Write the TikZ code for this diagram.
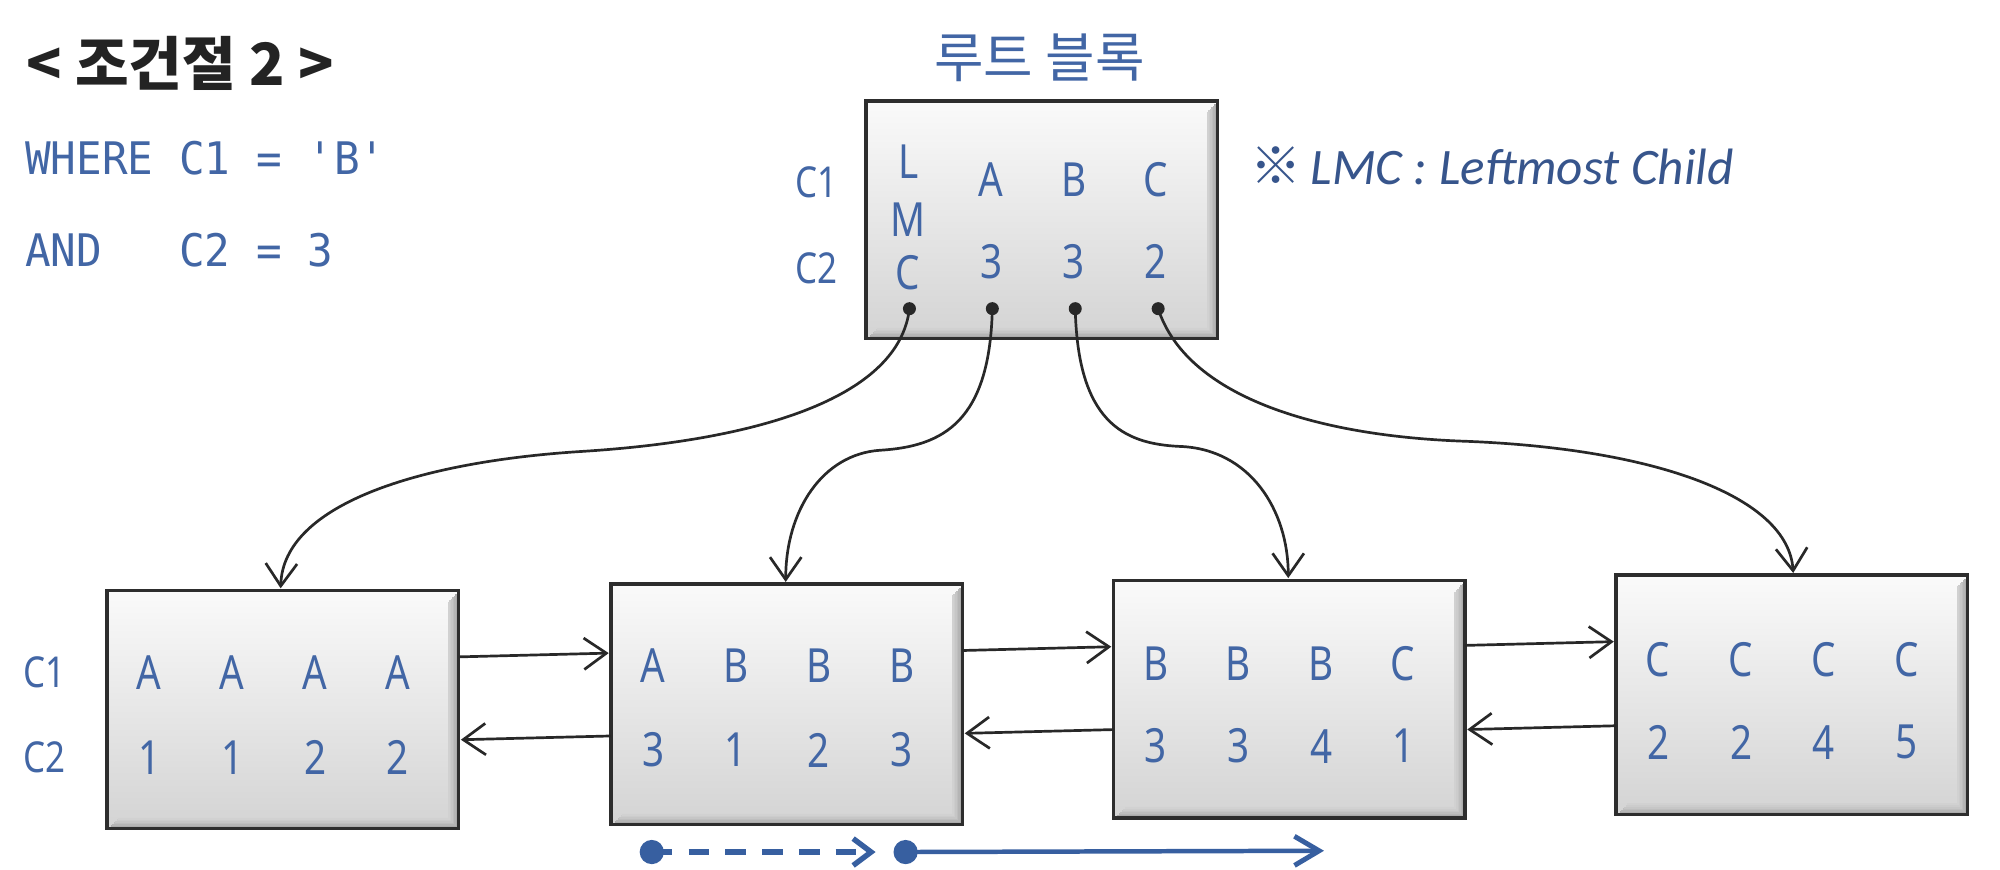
\documentclass[tikz,border=0pt]{standalone}
\usepackage{fontspec}
\setmainfont{Noto Sans}
\newfontfamily\boxfont{Noto Sans}[FakeStretch=0.82]
\newfontfamily\codefont{DejaVu Sans Mono}[FakeStretch=0.95]
\newfontfamily\krfont{Noto Sans CJK KR}
\newfontfamily\notefont{Carlito}
\usetikzlibrary{arrows.meta,calc}

\definecolor{txtblue}{RGB}{66,102,165}
\definecolor{noteblue}{RGB}{55,85,140}
\definecolor{linegray}{RGB}{40,40,40}
\definecolor{boxedge}{RGB}{45,45,45}
\definecolor{titlegray}{RGB}{35,35,35}
\definecolor{arrowblue}{RGB}{55,95,160}

\newcommand{\mybevel}[1]{%
  \foreach \i/\c in {1.8/66,3/58,4.2/51,5.4/45,6.6/40,7.8/36}{%
    \draw[gray!\c, line width=0.45pt]
      ($(#1.north east)+(-\i,\i+1)$) -- ($(#1.south east)+(-\i,-\i)$) -- ($(#1.south west)+(\i+1,-\i)$);
  }%
  \draw[boxedge, line width=0.8pt] (#1.north west) rectangle (#1.south east);
}

\begin{document}
\begin{tikzpicture}[x=0.01cm,y=-0.01cm,
  blk/.style={rectangle, inner sep=0, top color=gray!4, bottom color=gray!34, anchor=north west, minimum width=2.74cm},
  val/.style={font=\boxfont\fontsize{10.5}{12}\selectfont, text=txtblue, inner sep=0},
  lbl/.style={font=\boxfont\fontsize{9.5}{11}\selectfont, text=txtblue, inner sep=0},
  conn/.style={draw=linegray, line width=0.6pt, -{Straight Barb[length=5pt,width=7pt]}, shorten >=0.5pt},
  pdot/.style={circle, fill=linegray, inner sep=0, minimum size=2.9pt},
  bdot/.style={circle, fill=arrowblue, inner sep=0, minimum size=5.4pt},
]
\useasboundingbox (0,0) rectangle (1568,682);
\fill[white] (0,0) rectangle (1568,682);

% ---- header texts
\node[anchor=west, inner sep=0, font=\krfont\bfseries\fontsize{13}{15}\selectfont, text=titlegray] (title) at (20,50) {< 조건절 2 >};
\node[anchor=west, inner sep=0, font=\codefont\fontsize{10}{12}\selectfont, text=txtblue] (where) at (19,124) {WHERE C1 = \textquotesingle B\textquotesingle};
\node[anchor=west, inner sep=0, font=\codefont\fontsize{10}{12}\selectfont, text=txtblue] (and) at (19,196) {AND\ \ \ C2 = 3};
\node[inner sep=0, font=\krfont\fontsize{12}{14}\selectfont, text=txtblue] (roottitle) at (815,45) {루트 블록};
\node[anchor=west, inner sep=0, font=\notefont\itshape\fontsize{11.4}{13}\selectfont, text=noteblue] (note) at (980,130) {{\krfont\upshape ※}\,LMC : Leftmost Child};

% ---- boxes
\node[blk, minimum height=1.85cm] (R) at (679,79) {};
\node[blk, minimum height=1.85cm] (L1) at (84,463) {};
\node[blk, minimum height=1.87cm] (L2) at (479,458) {};
\node[blk, minimum height=1.85cm] (L3) at (873,455) {};
\node[blk, minimum height=1.86cm] (L4) at (1267,451) {};
\mybevel{R}\mybevel{L1}\mybevel{L2}\mybevel{L3}\mybevel{L4}

% ---- root contents
\node[lbl] (rc1) at (640,143) {C1};
\node[lbl] (rc2) at (640,210) {C2};
\node[val] (rl) at (712,127) {L};
\node[val] (rm) at (712,172) {M};
\node[val] (rc) at (712,214) {C};
\node[val] (ra1) at (777,141) {A};
\node[val] (ra2) at (842,141) {B};
\node[val] (ra3) at (906,141) {C};
\node[val] (rb1) at (777,205) {3};
\node[val] (rb2) at (842,205) {3};
\node[val] (rb3) at (906,205) {2};
\node[pdot] (p1) at (713,242) {};
\node[pdot] (p2) at (778,242) {};
\node[pdot] (p3) at (843,242) {};
\node[pdot] (p4) at (908,242) {};

% ---- leaf labels
\node[lbl] (lc1) at (35,527) {C1};
\node[lbl] (lc2) at (35,594) {C2};

% leaf 1
\node[val] (a11) at (117,527) {A};
\node[val] (a12) at (182,527) {A};
\node[val] (a13) at (247,527) {A};
\node[val] (a14) at (312,527) {A};
\node[val] (b11) at (117,594) {1};
\node[val] (b12) at (182,594) {1};
\node[val] (b13) at (247,594) {2};
\node[val] (b14) at (312,594) {2};
% leaf 2
\node[val] (a21) at (512,522) {A};
\node[val] (a22) at (577,522) {B};
\node[val] (a23) at (642,522) {B};
\node[val] (a24) at (707,522) {B};
\node[val] (b21) at (512,588) {3};
\node[val] (b22) at (577,588) {1};
\node[val] (b23) at (642,588) {2};
\node[val] (b24) at (707,588) {3};
% leaf 3
\node[val] (a31) at (906,520) {B};
\node[val] (a32) at (971,520) {B};
\node[val] (a33) at (1036,520) {B};
\node[val] (a34) at (1100,520) {C};
\node[val] (b31) at (906,585) {3};
\node[val] (b32) at (971,585) {3};
\node[val] (b33) at (1036,585) {4};
\node[val] (b34) at (1100,585) {1};
% leaf 4
\node[val] (a41) at (1300,517) {C};
\node[val] (a42) at (1365,517) {C};
\node[val] (a43) at (1430,517) {C};
\node[val] (a44) at (1495,517) {C};
\node[val] (b41) at (1300,582) {2};
\node[val] (b42) at (1365,582) {2};
\node[val] (b43) at (1430,582) {4};
\node[val] (b44) at (1495,582) {5};

% ---- curved child pointers
\coordinate (t1) at (220,463);
\coordinate (t2) at (616,458);
\coordinate (t3) at (1010,455);
\coordinate (t4) at (1406,451);
\coordinate (m1) at (455,354);
\coordinate (m2) at (690,353);
\coordinate (m3) at (925,350);
\coordinate (m4) at (1150,346);
\draw[conn] (p1.center) .. controls (705,310) and (600,345) .. (m1) .. controls (330,362) and (222,395) .. (t1);
\draw[conn] (p2.center) .. controls (776,330) and (740,350) .. (m2) .. controls (645,356) and (616,400) .. (t2);
\draw[conn] (p3.center) .. controls (845,330) and (880,348) .. (m3) .. controls (980,352) and (1010,400) .. (t3);
\draw[conn] (p4.center) .. controls (930,310) and (1030,342) .. (m4) .. controls (1300,352) and (1402,390) .. (t4);

% ---- sibling links
\draw[conn] (L1.east |- 0,515) -- (L2.west |- 0,512);
\draw[conn] (L2.west |- 0,577) -- (L1.east |- 0,580);
\draw[conn] (L2.east |- 0,510) -- (L3.west |- 0,507);
\draw[conn] (L3.west |- 0,572) -- (L2.east |- 0,575);
\draw[conn] (L3.east |- 0,506) -- (L4.west |- 0,503);
\draw[conn] (L4.west |- 0,569) -- (L3.east |- 0,572);

% ---- scan arrows
\node[bdot] (s1) at (511,668) {};
\node[bdot] (s2) at (710,668) {};
\coordinate (e2) at (1038,667);
\draw[arrowblue, line width=1.2pt, dash pattern=on 4.6pt off 3.6pt, shorten >=3.8pt,
  -{Straight Barb[length=4pt,width=6pt,line width=1.2pt]}] (s1.center) -- (s2.west);
\draw[arrowblue, line width=1pt, -{Straight Barb[length=5.5pt,width=6.5pt,line width=1.1pt]}] (s2.center) -- (e2);
\end{tikzpicture}
\end{document}
